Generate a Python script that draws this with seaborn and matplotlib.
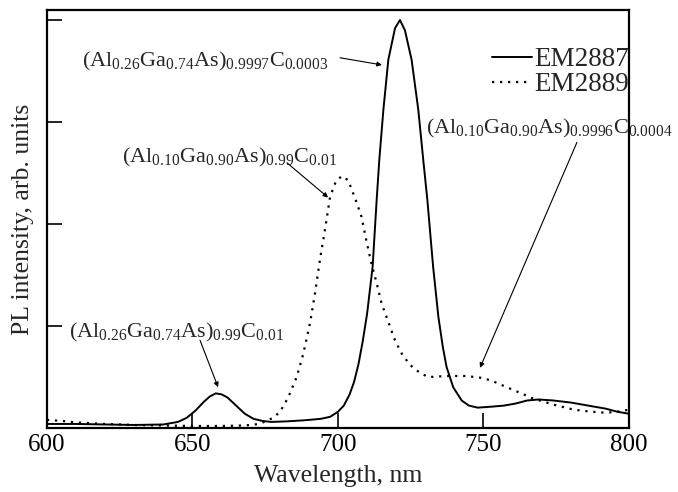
import pandas as pd
import matplotlib.pyplot as plt
import seaborn as sns

# PL spectra (wavelength in nm, intensity in arb. units)
wl_2887 = [600, 610, 620, 630, 640, 645, 648, 651, 654, 656, 658, 660, 662, 665,
           668, 671, 674, 677, 682, 688, 694, 697.3, 700, 702, 704, 705.5, 707,
           708.5, 710, 711.9, 713.3, 714.2, 715.6, 717.3, 719.6, 721.3, 723,
           725.3, 727.6, 729.3, 730.7, 732.7, 734.5, 736, 737.3, 739.6, 742.5,
           745, 748, 753, 757, 761, 765, 769, 774, 780, 786, 792, 796, 800]
pl_2887 = [0.04, 0.04, 0.035, 0.03, 0.035, 0.06, 0.10, 0.17, 0.26, 0.31, 0.34,
           0.33, 0.30, 0.22, 0.14, 0.09, 0.07, 0.06, 0.065, 0.075, 0.09, 0.11,
           0.16, 0.22, 0.33, 0.45, 0.62, 0.85, 1.12, 1.58, 2.24, 2.63, 3.12,
           3.61, 3.92, 4.00, 3.90, 3.61, 3.12, 2.63, 2.24, 1.58, 1.09, 0.80,
           0.60, 0.40, 0.27, 0.22, 0.20, 0.21, 0.22, 0.24, 0.27, 0.28, 0.27,
           0.25, 0.22, 0.19, 0.16, 0.14]

wl_2889 = [600, 605, 610, 620, 630, 640, 650, 660, 668, 673, 677.7, 680.1,
           682.9, 685.8, 688.1, 690.4, 692.1, 693.8, 695.5, 697.3, 699.3, 701.3,
           703.5, 706.3, 708.1, 709.8, 711.6, 713.3, 715, 717.3, 719.6, 721.9,
           724.7, 728.2, 731, 737.3, 744, 750, 754, 758, 763, 767, 774, 781,
           787, 792, 796, 800]
pl_2889 = [0.08, 0.07, 0.055, 0.04, 0.03, 0.025, 0.02, 0.02, 0.025, 0.04, 0.10,
           0.16, 0.30, 0.50, 0.73, 1.03, 1.32, 1.65, 1.94, 2.27, 2.42, 2.47,
           2.43, 2.22, 2.07, 1.83, 1.60, 1.42, 1.22, 1.04, 0.86, 0.73, 0.62,
           0.54, 0.50, 0.51, 0.51, 0.49, 0.45, 0.40, 0.34, 0.29, 0.23, 0.18,
           0.16, 0.15, 0.16, 0.18]

samples = ["EM2887", "EM2889"]
x_ticks = [600, 650, 700, 750, 800]

# peak labels: (text, text position, arrow tail, arrow head)
labels = [
    (r"(Al$_{0.26}$Ga$_{0.74}$As)$_{0.9997}$C$_{0.0003}$", (612, 3.59), (700.7, 3.63), (715.1, 3.56)),
    (r"(Al$_{0.10}$Ga$_{0.90}$As)$_{0.99}$C$_{0.01}$", (625.8, 2.65), (682.5, 2.60), (696.6, 2.26)),
    (r"(Al$_{0.26}$Ga$_{0.74}$As)$_{0.99}$C$_{0.01}$", (607.6, 0.94), (652.6, 0.86), (658.8, 0.40)),
    (r"(Al$_{0.10}$Ga$_{0.90}$As)$_{0.9996}$C$_{0.0004}$", (730.2, 2.94), (782.1, 2.80), (748.8, 0.59)),
]

df1 = pd.DataFrame({"wl": wl_2887, "pl": pl_2887})
df2 = pd.DataFrame({"wl": wl_2889, "pl": pl_2889})

sns.set_theme(style="ticks")
plt.rcParams["font.family"] = ["Liberation Serif", "DejaVu Serif"]
plt.rcParams["mathtext.fontset"] = "custom"
plt.rcParams["mathtext.rm"] = "Liberation Serif"
plt.rcParams["mathtext.it"] = "Liberation Serif"

fig = plt.figure(figsize=(6.78, 4.92), dpi=100)
ax = fig.add_axes([0.0693, 0.130, 0.8584, 0.850])

sns.lineplot(data=df1, x="wl", y="pl", ax=ax, color="black", lw=1.4, label=samples[0])
sns.lineplot(data=df2, x="wl", y="pl", ax=ax, color="black", lw=1.6,
             linestyle=(0, (1, 2.6)), label=samples[1])

ax.set_xlim(600, 800)
ax.set_ylim(0, 4.1)
ax.set_xticks(x_ticks)
ax.set_yticks([1, 2, 3, 4])
ax.set_yticklabels([])
ax.tick_params(direction="in", length=11, width=1.2, labelsize=18, pad=4, colors="black")
for s in ax.spines.values():
    s.set_linewidth(1.6)
    s.set_color("black")

ax.set_xlabel("Wavelength, nm", fontsize=18.5, labelpad=7)
ax.set_ylabel("PL intensity, arb. units", fontsize=18.5, labelpad=5)

for txt, pos, tail, head in labels:
    ax.text(pos[0], pos[1], txt, fontsize=16, ha="left", va="center")
    ax.annotate("", xy=head, xytext=tail,
                arrowprops=dict(arrowstyle="-|>", lw=0.8, color="black",
                                mutation_scale=7, shrinkA=0, shrinkB=0))

ax.legend(loc="upper right", bbox_to_anchor=(1.0, 0.91), frameon=False,
          fontsize=19.5, handlelength=1.45, handletextpad=0.1,
          labelspacing=0.0, borderpad=0, borderaxespad=0)

fig.savefig("out.png", dpi=100)
